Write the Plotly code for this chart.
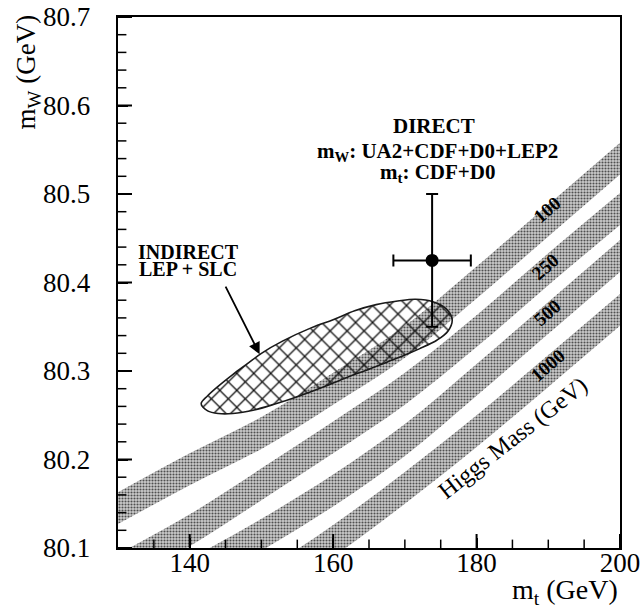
import plotly.graph_objects as go

# Top-quark mass grid (GeV) on which the SM Higgs bands are tabulated
mt_grid = [130, 140, 150, 160, 170, 180, 190, 200]

# W-mass edges (GeV) of each Higgs-mass band
mw_lo_100 = [80.127, 80.171, 80.212, 80.262, 80.315, 80.382, 80.452, 80.522]
mw_hi_100 = [80.163, 80.207, 80.248, 80.298, 80.351, 80.418, 80.488, 80.558]
mw_lo_250 = [80.057, 80.102, 80.154, 80.207, 80.262, 80.327, 80.397, 80.465]
mw_hi_250 = [80.093, 80.138, 80.190, 80.243, 80.298, 80.363, 80.433, 80.501]
mw_lo_500 = [80.012, 80.052, 80.097, 80.147, 80.204, 80.272, 80.342, 80.412]
mw_hi_500 = [80.048, 80.088, 80.133, 80.183, 80.240, 80.308, 80.378, 80.448]
mw_lo_1000 = [79.952, 79.992, 80.037, 80.090, 80.150, 80.214, 80.282, 80.351]
mw_hi_1000 = [79.988, 80.028, 80.073, 80.126, 80.186, 80.250, 80.318, 80.387]

higgs_labels = ["100", "250", "500", "1000"]
higgs_label_mt = [189.9, 189.6, 189.9, 189.9]
higgs_label_mw = [80.482, 80.418, 80.366, 80.306]

# Indirect (LEP + SLC) 68% contour
ind_mt = [141.6, 142.5, 144.0, 146.0, 148.0, 150.0, 153.0, 157.0, 160.0, 163.0,
          166.0, 169.0, 171.5, 174.0, 175.8, 176.6, 176.0, 174.5, 172.0, 170.0,
          167.5, 165.0, 162.0, 158.0, 155.0, 152.0, 149.0, 146.0, 144.0, 142.5, 141.6]
ind_mw = [80.263, 80.272, 80.283, 80.296, 80.308, 80.320, 80.334, 80.349, 80.358, 80.368,
          80.375, 80.379, 80.381, 80.378, 80.370, 80.358, 80.345, 80.335, 80.325, 80.318,
          80.310, 80.302, 80.293, 80.280, 80.271, 80.263, 80.256, 80.252, 80.252, 80.255, 80.263]

# Direct measurement
direct_mt = [173.8]
direct_mt_err = [5.4]
direct_mw = [80.425]
direct_mw_err = [0.075]

# Axis tick values and their printed labels
mt_ticks = [140, 160, 180, 200]
mt_minor_ticks = [135, 145, 150, 155, 165, 170, 175, 185, 190, 195]
mw_ticks = [80.1, 80.2, 80.3, 80.4, 80.5, 80.6, 80.7]
mw_minor_ticks = [80.12, 80.14, 80.16, 80.18, 80.22, 80.24, 80.26, 80.28,
                  80.32, 80.34, 80.36, 80.38, 80.42, 80.44, 80.46, 80.48,
                  80.52, 80.54, 80.56, 80.58, 80.62, 80.64, 80.66, 80.68]
mw_tick_text = ["80.1", "80.2", "80.3", "80.4", "80.5", "80.6", "80.7"]

MT_RANGE = [130, 200]
MW_RANGE = [80.1, 80.7]

SERIF = "Liberation Serif"
PAD = "\u00a0\u00a0\u00a0"

fig = go.Figure()

bands = [(mw_lo_100, mw_hi_100), (mw_lo_250, mw_hi_250),
         (mw_lo_500, mw_hi_500), (mw_lo_1000, mw_hi_1000)]
for lo, hi in bands:
    fig.add_trace(go.Scatter(x=mt_grid, y=lo, mode="lines", line=dict(width=0, shape="spline"),
                             showlegend=False, hoverinfo="skip"))
    fig.add_trace(go.Scatter(x=mt_grid, y=hi, mode="lines", line=dict(width=0, shape="spline"),
                             fill="tonexty", fillcolor="#b8b8b8",
                             fillpattern=dict(shape=".", fgcolor="#505050", bgcolor="#cccccc",
                                              size=3, solidity=0.4),
                             showlegend=False, hoverinfo="skip"))

fig.add_trace(go.Scatter(x=ind_mt, y=ind_mw, mode="lines", fill="toself",
                         line=dict(color="#1a1a1a", width=1.6, shape="spline"),
                         fillcolor="rgba(0,0,0,0)",
                         fillpattern=dict(shape="x", fgcolor="#111111", bgcolor="rgba(0,0,0,0)",
                                          size=12, solidity=0.2),
                         showlegend=False, hoverinfo="skip"))

fig.add_trace(go.Scatter(x=direct_mt, y=direct_mw, mode="markers",
                         marker=dict(color="black", size=13),
                         error_x=dict(type="data", array=direct_mt_err, color="black",
                                      thickness=2, width=6),
                         error_y=dict(type="data", array=direct_mw_err, color="black",
                                      thickness=2, width=6),
                         showlegend=False, hoverinfo="skip"))


def tick_marks(xs, ys, symbol, length, width):
    # Line markers centred on the frame; the plot-area clip keeps the inner half.
    return go.Scatter(x=xs, y=ys, mode="markers", cliponaxis=True,
                      marker=dict(symbol=symbol, size=length, color="black",
                                  line=dict(color="black", width=width)),
                      showlegend=False, hoverinfo="skip")


fig.add_trace(tick_marks(mt_ticks, [MW_RANGE[0]] * len(mt_ticks), "line-ns", 20, 2))
fig.add_trace(tick_marks(mt_minor_ticks, [MW_RANGE[0]] * len(mt_minor_ticks), "line-ns", 12, 1.5))
fig.add_trace(tick_marks([MT_RANGE[0]] * len(mw_ticks), mw_ticks, "line-ew", 20, 2))
fig.add_trace(tick_marks([MT_RANGE[0]] * len(mw_minor_ticks), mw_minor_ticks, "line-ew", 12, 1.5))

ann = []
for lab, xm, ym in zip(higgs_labels, higgs_label_mt, higgs_label_mw):
    ann.append(dict(x=xm, y=ym, xref="x", yref="y", text="<b>%s</b>" % lab, showarrow=False,
                    textangle=-41, font=dict(family=SERIF, size=19, color="black")))

ann.append(dict(x=185.0, y=80.2245, xref="x", yref="y", text="Higgs Mass (GeV)",
                showarrow=False, textangle=-38,
                font=dict(family=SERIF, size=24, color="black")))

ann.append(dict(x=174.1, y=80.577, xref="x", yref="y", text="<b>DIRECT</b>", showarrow=False,
                font=dict(family=SERIF, size=21, color="black")))
ann.append(dict(x=174.5, y=80.548, xref="x", yref="y",
                text="<b>m<sub>W</sub>: UA2+CDF+D0+LEP2</b>", showarrow=False,
                font=dict(family=SERIF, size=21, color="black")))
ann.append(dict(x=174.5, y=80.524, xref="x", yref="y",
                text="<b>m<sub>t</sub>: CDF+D0</b>", showarrow=False,
                font=dict(family=SERIF, size=21, color="black")))

ann.append(dict(x=139.8, y=80.435, xref="x", yref="y", text="<b>INDIRECT</b>", showarrow=False,
                font=dict(family=SERIF, size=20, color="black")))
ann.append(dict(x=139.8, y=80.415, xref="x", yref="y", text="<b>LEP + SLC</b>", showarrow=False,
                font=dict(family=SERIF, size=20, color="black")))

ann.append(dict(x=149.75, y=80.319, xref="x", yref="y", ax=144.9, ay=80.397,
                axref="x", ayref="y", text="", showarrow=True,
                arrowhead=2, arrowsize=1.3, arrowwidth=1.8, arrowcolor="black"))

ann.append(dict(x=-0.179, y=1.008, xref="paper", yref="paper", xanchor="center", yanchor="top",
                text="m<sub>W</sub> (GeV)", showarrow=False, textangle=-90,
                font=dict(family=SERIF, size=27, color="black")))
ann.append(dict(x=1.0, y=-0.081, xref="paper", yref="paper", xanchor="right", yanchor="middle",
                text="m<sub>t</sub> (GeV)", showarrow=False,
                font=dict(family=SERIF, size=28, color="black")))

fig.update_layout(
    template="none",
    width=642, height=609,
    margin=dict(l=118, r=22, t=17, b=61, autoexpand=False),
    paper_bgcolor="white", plot_bgcolor="white",
    annotations=ann,
    xaxis=dict(range=MT_RANGE, tickmode="array", tickvals=mt_ticks,
               ticks="inside", ticklen=10, tickwidth=2, tickcolor="black",
               showline=True, linewidth=2, linecolor="black", mirror=True,
               showgrid=False, zeroline=False, automargin=False,
               tickfont=dict(family=SERIF, size=27, color="black"),
               ticklabelstandoff=-10),
    yaxis=dict(range=MW_RANGE, tickmode="array", tickvals=mw_ticks,
               ticktext=[t + PAD for t in mw_tick_text],
               ticks="inside", ticklen=10, tickwidth=2, tickcolor="black",
               showline=True, linewidth=2, linecolor="black", mirror=True,
               showgrid=False, zeroline=False, automargin=False,
               tickfont=dict(family=SERIF, size=27, color="black")),
)

fig.write_html("out.html")
